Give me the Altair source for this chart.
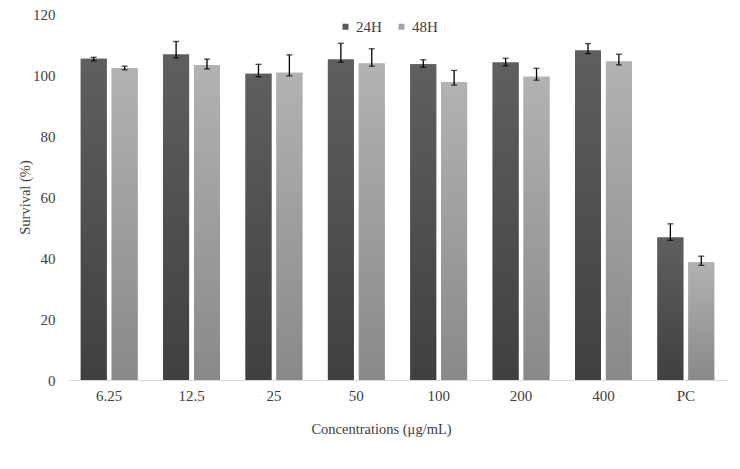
import altair as alt
import pandas as pd

concentrations = ["6.25", "12.5", "25", "50", "100", "200", "400", "PC"]
series = ["24H", "48H"]

# mean survival (%)
mean_24h = [105.3, 106.7, 100.4, 105.1, 103.5, 104.1, 108.0, 46.7]
mean_48h = [102.3, 103.3, 100.7, 103.8, 97.7, 99.4, 104.4, 38.6]
# error bar ends (low / high)
lo_24h = [104.6, 105.6, 99.4, 104.2, 102.5, 103.0, 107.0, 45.8]
hi_24h = [105.8, 111.0, 103.5, 110.4, 105.0, 105.5, 110.3, 51.2]
lo_48h = [101.7, 102.0, 99.7, 102.9, 96.7, 98.3, 103.3, 37.6]
hi_48h = [102.9, 105.2, 106.6, 108.6, 101.5, 102.2, 106.8, 40.6]

rows = []
for i, c in enumerate(concentrations):
    rows.append({"conc": c, "series": "24H", "value": mean_24h[i], "lo": lo_24h[i], "hi": hi_24h[i]})
    rows.append({"conc": c, "series": "48H", "value": mean_48h[i], "lo": lo_48h[i], "hi": hi_48h[i]})
df = pd.DataFrame(rows)

FONT = "Liberation Serif"
TXT = "#404040"

x_enc = alt.X("conc:N", sort=concentrations,
              scale=alt.Scale(paddingInner=0.31, paddingOuter=0.155),
              axis=alt.Axis(title="Concentrations (μg/mL)", labelAngle=0, ticks=False,
                            domainColor="#d9d9d9", labelPadding=8, titlePadding=19,
                            titleX=313))
xoff = alt.XOffset("series:N", scale=alt.Scale(domain=series, paddingInner=0.16, paddingOuter=0))
y_scale = alt.Scale(domain=[0, 120])
y_enc = alt.Y("value:Q", scale=y_scale,
              axis=alt.Axis(title="Survival (%)", values=[0, 20, 40, 60, 80, 100, 120],
                            grid=False, domain=False, ticks=False, labelPadding=13,
                            titlePadding=0))

base = alt.Chart(df)

legend_bars = base.mark_bar().encode(
    x=x_enc, xOffset=xoff, y=y_enc,
    color=alt.Color("series:N", scale=alt.Scale(domain=series, range=["#595959", "#a6a6a6"]),
                    legend=alt.Legend(title=None, orient="none", direction="horizontal",
                                      legendX=270, legendY=5, symbolType="square",
                                      symbolSize=36, symbolStrokeWidth=0,
                                      labelFont=FONT, labelFontSize=15, labelColor=TXT,
                                      columnPadding=12, labelOffset=3))
)

grad_dark = alt.Gradient(gradient="linear", x1=0, x2=0, y1=0, y2=1,
                         stops=[alt.GradientStop(color="#5f5f5f", offset=0),
                                alt.GradientStop(color="#404040", offset=1)])
grad_light = alt.Gradient(gradient="linear", x1=0, x2=0, y1=0, y2=1,
                          stops=[alt.GradientStop(color="#b2b2b2", offset=0),
                                 alt.GradientStop(color="#898989", offset=1)])

bars_dark = base.transform_filter(alt.datum.series == "24H").mark_bar(color=grad_dark).encode(
    x=x_enc, xOffset=xoff, y=y_enc)
bars_light = base.transform_filter(alt.datum.series == "48H").mark_bar(color=grad_light).encode(
    x=x_enc, xOffset=xoff, y=y_enc)

whisk = base.mark_rule(color="black", strokeWidth=1.3).encode(
    x=x_enc, xOffset=xoff, y=alt.Y("lo:Q", scale=y_scale), y2="hi:Q")
cap_lo = base.mark_tick(color="black", size=6, thickness=1.3).encode(
    x=x_enc, xOffset=xoff, y=alt.Y("lo:Q", scale=y_scale))
cap_hi = base.mark_tick(color="black", size=6, thickness=1.3).encode(
    x=x_enc, xOffset=xoff, y=alt.Y("hi:Q", scale=y_scale))

chart = alt.layer(legend_bars, bars_dark, bars_light, whisk, cap_lo, cap_hi).properties(
    width=659, height=366,
    autosize=alt.AutoSizeParams(type="none"),
    padding={"left": 60, "top": 6, "right": 5, "bottom": 75},
).configure_view(stroke=None).configure_axis(
    labelFont=FONT, titleFont=FONT, labelFontSize=15, titleFontSize=14.5,
    labelColor=TXT, titleColor=TXT, titleFontWeight="normal"
)

chart.save("out.html", embed_options={"renderer": "svg", "actions": False})
